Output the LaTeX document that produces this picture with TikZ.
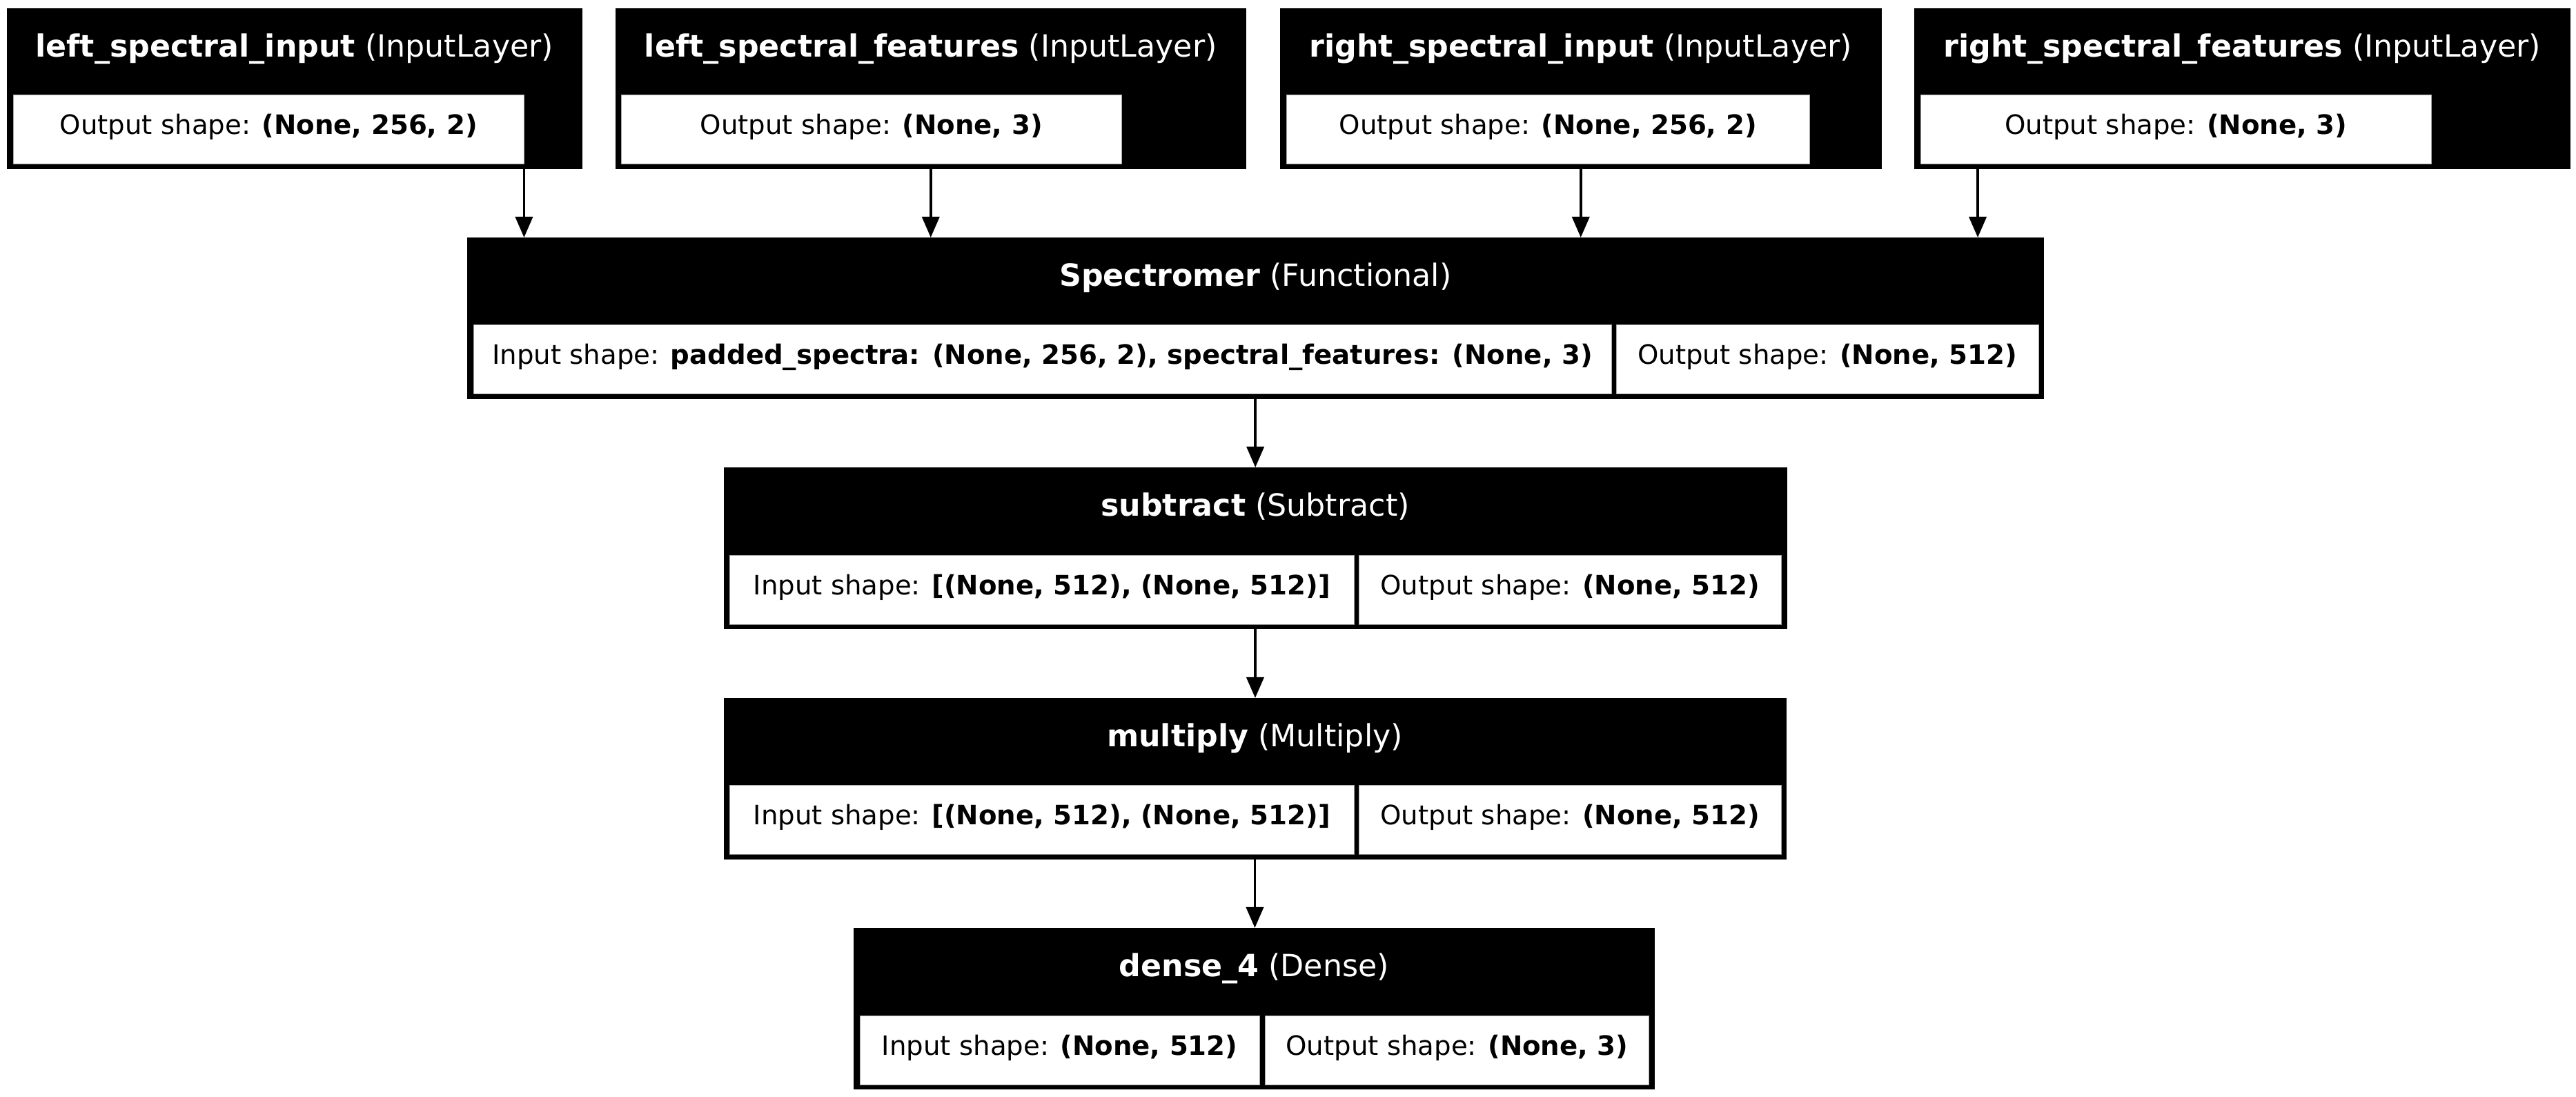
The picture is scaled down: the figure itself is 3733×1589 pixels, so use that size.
\documentclass[tikz,border=0pt]{standalone}
\usepackage{fontspec}
\setmainfont{DejaVu Sans}
\usetikzlibrary{positioning,arrows.meta}

\newcommand{\layertitlefont}{\fontsize{12.6}{14}\selectfont}
\newcommand{\layercellfont}{\fontsize{11}{13}\selectfont}

\tikzstyle{layer} = [rectangle, fill=black, draw=black, line width=0.2pt, inner sep=0pt, outer sep=0pt, anchor=north west]
\tikzstyle{layertitle} = [rectangle, inner sep=0pt, outer sep=0pt, minimum height=1.26cm,
                          text=white, font=\layertitlefont, text height=0.35cm, text depth=0.20cm]
\tikzstyle{shapecell} = [rectangle, fill=white, draw=black!35, line width=0.2pt, inner sep=0pt, outer sep=0pt,
                         minimum height=1.00cm, font=\layercellfont, text height=0.32cm, text depth=0.17cm]
\tikzstyle{arrow} = [line width=0.038cm, -{Triangle[length=0.30cm, width=0.25cm]}]

\begin{document}
\begin{tikzpicture}[x=0.01cm, y=-0.01cm]
            \useasboundingbox (0,0) rectangle (3733,1589);

            % Input layers
            \node (lsi) [layer, minimum width=8.33cm, minimum height=2.32cm] at (10,12) {};
            \node (lsi-title) [layertitle, below=0pt of lsi.north] {\textbf{left\_spectral\_input} (InputLayer)};
            \node (lsi-out) [shapecell, minimum width=7.40cm, below right=1.25cm and 0.09cm of lsi.north west] {Output shape: \textbf{(None, 256, 2)}};

            \node (lsf) [layer, minimum width=9.13cm, minimum height=2.32cm] at (892,12) {};
            \node (lsf-title) [layertitle, below=0pt of lsf.north] {\textbf{left\_spectral\_features} (InputLayer)};
            \node (lsf-out) [shapecell, minimum width=7.25cm, below right=1.25cm and 0.08cm of lsf.north west] {Output shape: \textbf{(None, 3)}};

            \node (rsi) [layer, minimum width=8.71cm, minimum height=2.32cm] at (1855,12) {};
            \node (rsi-title) [layertitle, below=0pt of rsi.north] {\textbf{right\_spectral\_input} (InputLayer)};
            \node (rsi-out) [shapecell, minimum width=7.58cm, below right=1.25cm and 0.09cm of rsi.north west] {Output shape: \textbf{(None, 256, 2)}};

            \node (rsf) [layer, minimum width=9.50cm, minimum height=2.32cm] at (2774,12) {};
            \node (rsf-title) [layertitle, below=0pt of rsf.north] {\textbf{right\_spectral\_features} (InputLayer)};
            \node (rsf-out) [shapecell, minimum width=7.40cm, below right=1.25cm and 0.09cm of rsf.north west] {Output shape: \textbf{(None, 3)}};

            % Spectromer
            \node (spectromer) [layer, minimum width=22.83cm, minimum height=2.33cm] at (677,344) {};
            \node (spectromer-title) [layertitle, below=0pt of spectromer.north] {\textbf{Spectromer} (Functional)};
            \node (spectromer-in) [shapecell, minimum width=16.48cm, below right=1.26cm and 0.09cm of spectromer.north west] {Input shape: \textbf{padded\_spectra: (None, 256, 2), spectral\_features: (None, 3)}};
            \node (spectromer-out) [shapecell, minimum width=6.12cm, right=0.07cm of spectromer-in] {Output shape: \textbf{(None, 512)}};

            % Merge layers
            \node (subtract) [layer, minimum width=15.39cm, minimum height=2.33cm] at (1049,677) {};
            \node (subtract-title) [layertitle, below=0pt of subtract.north] {\textbf{subtract} (Subtract)};
            \node (subtract-in) [shapecell, minimum width=9.05cm, below right=1.27cm and 0.08cm of subtract.north west] {Input shape: \textbf{[(None, 512), (None, 512)]}};
            \node (subtract-out) [shapecell, minimum width=6.11cm, right=0.07cm of subtract-in] {Output shape: \textbf{(None, 512)}};

            \node (multiply) [layer, minimum width=15.38cm, minimum height=2.33cm] at (1049,1011) {};
            \node (multiply-title) [layertitle, below=0pt of multiply.north] {\textbf{multiply} (Multiply)};
            \node (multiply-in) [shapecell, minimum width=9.05cm, below right=1.26cm and 0.08cm of multiply.north west] {Input shape: \textbf{[(None, 512), (None, 512)]}};
            \node (multiply-out) [shapecell, minimum width=6.11cm, right=0.07cm of multiply-in] {Output shape: \textbf{(None, 512)}};

            % Output layer
            \node (dense) [layer, minimum width=11.60cm, minimum height=2.33cm] at (1237,1344) {};
            \node (dense-title) [layertitle, below=0pt of dense.north] {\textbf{dense\_4} (Dense)};
            \node (dense-in) [shapecell, minimum width=5.79cm, below right=1.27cm and 0.09cm of dense.north west] {Input shape: \textbf{(None, 512)}};
            \node (dense-out) [shapecell, minimum width=5.56cm, right=0.08cm of dense-in] {Output shape: \textbf{(None, 3)}};

            % Arrows
            \coordinate (rsf-port) at ([xshift=0.92cm]rsf.south west);
            \draw [arrow] (lsi-out.east |- lsi.south) -- (lsi-out.east |- spectromer.north);
            \draw [arrow] (lsf.south) -- (lsf.south |- spectromer.north);
            \draw [arrow] (rsi.south) -- (rsi.south |- spectromer.north);
            \draw [arrow] (rsf-port) -- (rsf-port |- spectromer.north);

            \draw [arrow] (spectromer.south) -- (spectromer.south |- subtract.north);
            \draw [arrow] (subtract.south) -- (subtract.south |- multiply.north);
            \draw [arrow] (multiply.south) -- (multiply.south |- dense.north);
\end{tikzpicture}
\end{document}
